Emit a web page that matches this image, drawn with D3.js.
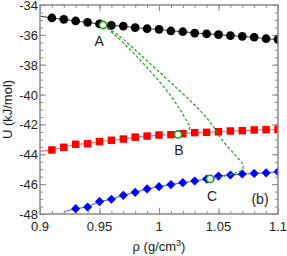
<!DOCTYPE html>
<html>
<head>
<meta charset="utf-8">
<script src="https://cdn.jsdelivr.net/npm/d3@7"></script>
<style>
body { margin: 0; background: #fff; }
svg text { font-family: "Liberation Sans", Arial, sans-serif; fill: #222; }
</style>
</head>
<body>
<div id="chart"></div>
<script>
// densities (g/cm3) of the simulated points
var rho = [0.91, 0.92, 0.93, 0.94, 0.95, 0.96, 0.97, 0.98, 0.99, 1.00,
           1.01, 1.02, 1.03, 1.04, 1.05, 1.06, 1.07, 1.08, 1.09, 1.10];

var uBlack = [-34.87, -34.96, -35.07, -35.16, -35.27, -35.36, -35.41, -35.52, -35.59, -35.63,
              -35.74, -35.79, -35.88, -35.94, -35.99, -36.05, -36.10, -36.16, -36.26, -36.30];
var uRed = [-43.71, -43.53, -43.33, -43.29, -43.15, -43.06, -42.98, -42.85, -42.78, -42.71,
            -42.69, -42.62, -42.55, -42.53, -42.49, -42.44, -42.42, -42.37, -42.35, -42.33];
// blue starts at 0.93
var rhoBlue = rho.slice(2);
var uBlue = [-47.64, -47.53, -47.17, -47.01, -46.75, -46.55, -46.32, -46.17,
             -46.03, -45.90, -45.79, -45.66, -45.46, -45.39, -45.32, -45.28, -45.24, -45.17];

// where the connecting lines leave the frame on the left
var edgeBlack = [0.90, -34.74];
var edgeRed = [0.90, -43.80];
var edgeBlue = [0.92, -47.85];

// green dashed paths A->B and A->C
var pathAB = [[0.953, -35.34], [0.963, -36.01], [0.976, -37.01], [0.988, -38.02], [1.000, -39.10],
              [1.010, -40.10], [1.018, -41.05], [1.0235, -41.80], [1.026, -42.17], [1.024, -42.47],
              [1.020, -42.64], [1.016, -42.67]];
var pathAC = [[0.953, -35.34], [0.9655, -36.01], [0.980, -37.01], [0.9966, -38.22], [1.013, -39.43],
              [1.030, -40.70], [1.043, -41.84], [1.053, -43.04], [1.0647, -44.11], [1.0706, -44.72],
              [1.0697, -45.05], [1.063, -45.29], [1.0513, -45.52], [1.043, -45.65]];

var states = [{name: "A", x: 0.953, y: -35.34, dx: -4, dy: 21},
              {name: "B", x: 1.016, y: -42.67, dx: 1, dy: 21},
              {name: "C", x: 1.043, y: -45.65, dx: 2, dy: 22}];

var xTicks = [0.9, 0.95, 1, 1.05, 1.1];
var yTicks = [-48, -46, -44, -42, -40, -38, -36, -34];

var W = 287, H = 256;
var m = {left: 40, right: 9, top: 5, bottom: 42};
var iw = W - m.left - m.right, ih = H - m.top - m.bottom;

var svg = d3.select("#chart").append("svg").attr("width", W).attr("height", H);
var g = svg.append("g").attr("transform", "translate(" + m.left + "," + m.top + ")");

var x = d3.scaleLinear().domain([0.9, 1.1]).range([0, iw]);
var y = d3.scaleLinear().domain([-48, -34]).range([ih, 0]);

svg.append("defs").append("clipPath").attr("id", "clip")
	.append("rect").attr("width", iw).attr("height", ih);

var frameCol = "#8a8a8a";

// ticks on all four sides, inward
function tickAxis(axisFn, scale, major, minorStep, transform, len) {
	var lo = scale.domain()[0], hi = scale.domain()[1];
	var minor = d3.range(lo, hi + 1e-9, minorStep);
	var ga = g.append("g").attr("transform", transform);
	ga.call(axisFn(scale).tickValues(minor).tickSize(len / 2).tickFormat(""));
	ga.selectAll(".domain").remove();
	var gb = g.append("g").attr("transform", transform);
	gb.call(axisFn(scale).tickValues(major).tickSize(len).tickFormat(""));
	gb.selectAll(".domain").remove();
	g.selectAll(".tick line").attr("stroke", frameCol);
}
tickAxis(d3.axisTop, x, xTicks, 0.01, "translate(0," + ih + ")", 6);
tickAxis(d3.axisBottom, x, xTicks, 0.01, "translate(0,0)", 6);
tickAxis(d3.axisRight, y, yTicks, 0.5, "translate(0,0)", 6);
tickAxis(d3.axisLeft, y, yTicks, 0.5, "translate(" + iw + ",0)", 6);

// tick labels
g.selectAll(".xl").data(xTicks).enter().append("text")
	.attr("x", function(d){ return x(d); })
	.attr("y", ih + 17)
	.attr("text-anchor", "middle")
	.attr("font-size", 13)
	.text(function(d){ return String(d); });
g.selectAll(".yl").data(yTicks).enter().append("text")
	.attr("x", -2)
	.attr("y", function(d){ return y(d) + 5; })
	.attr("text-anchor", "end")
	.attr("font-size", 13)
	.text(function(d){ return String(d); });

// axis titles
var xt = svg.append("text")
	.attr("x", m.left + iw / 2)
	.attr("y", 251)
	.attr("text-anchor", "middle")
	.attr("font-size", 13);
xt.append("tspan").text("ρ (g/cm");
xt.append("tspan").attr("font-size", 9).attr("dy", -5).text("3");
xt.append("tspan").attr("dy", 5).text(")");

svg.append("text")
	.attr("transform", "translate(12," + (m.top + ih / 2) + ") rotate(-90)")
	.attr("text-anchor", "middle")
	.attr("font-size", 13)
	.text("U (kJ/mol)");

var plot = g.append("g").attr("clip-path", "url(#clip)");
var line = d3.line().x(function(d){ return x(d[0]); }).y(function(d){ return y(d[1]); });

function series(xs, ys, edge, lineCol, col, shape, size, rot) {
	var pts = xs.map(function(v, i){ return [v, ys[i]]; });
	plot.append("path")
		.attr("d", line([edge].concat(pts)))
		.attr("fill", "none")
		.attr("stroke", lineCol)
		.attr("stroke-width", 1.2);
	plot.selectAll(null).data(pts).enter().append("path")
		.attr("transform", function(d){
			return "translate(" + x(d[0]) + "," + y(d[1]) + ") rotate(" + rot + ")"; })
		.attr("d", d3.symbol().type(shape).size(size))
		.attr("fill", col);
}
series(rho, uBlack, edgeBlack, "#555", "#000", d3.symbolCircle, 60, 0);
series(rho, uRed, edgeRed, "#ff7070", "#f00", d3.symbolSquare, 56, 0);
series(rhoBlue, uBlue, edgeBlue, "#6a6aff", "#00f", d3.symbolSquare, 42, 45);

// dashed green transition paths
[pathAB, pathAC].forEach(function(p){
	plot.append("path")
		.attr("d", d3.line().curve(d3.curveCatmullRom)
			.x(function(d){ return x(d[0]); }).y(function(d){ return y(d[1]); })(p))
		.attr("fill", "none")
		.attr("stroke", "#22a022")
		.attr("stroke-width", 1.2)
		.attr("stroke-dasharray", "3,2");
});

// open circles and letters
plot.selectAll(".st").data(states).enter().append("circle")
	.attr("cx", function(d){ return x(d.x); })
	.attr("cy", function(d){ return y(d.y); })
	.attr("r", 3.6)
	.attr("fill", "#fff")
	.attr("stroke", "#1a9a1a")
	.attr("stroke-width", 1.6);
g.selectAll(".stl").data(states).enter().append("text")
	.attr("x", function(d){ return x(d.x) + d.dx; })
	.attr("y", function(d){ return y(d.y) + d.dy; })
	.attr("text-anchor", "middle")
	.attr("font-size", 14)
	.text(function(d){ return d.name; });

g.append("text")
	.attr("x", iw - 18)
	.attr("y", ih - 10)
	.attr("text-anchor", "middle")
	.attr("font-size", 14)
	.text("(b)");

// frame
g.append("rect")
	.attr("width", iw).attr("height", ih)
	.attr("fill", "none")
	.attr("stroke", frameCol)
	.attr("stroke-width", 1.5);
</script>
</body>
</html>
